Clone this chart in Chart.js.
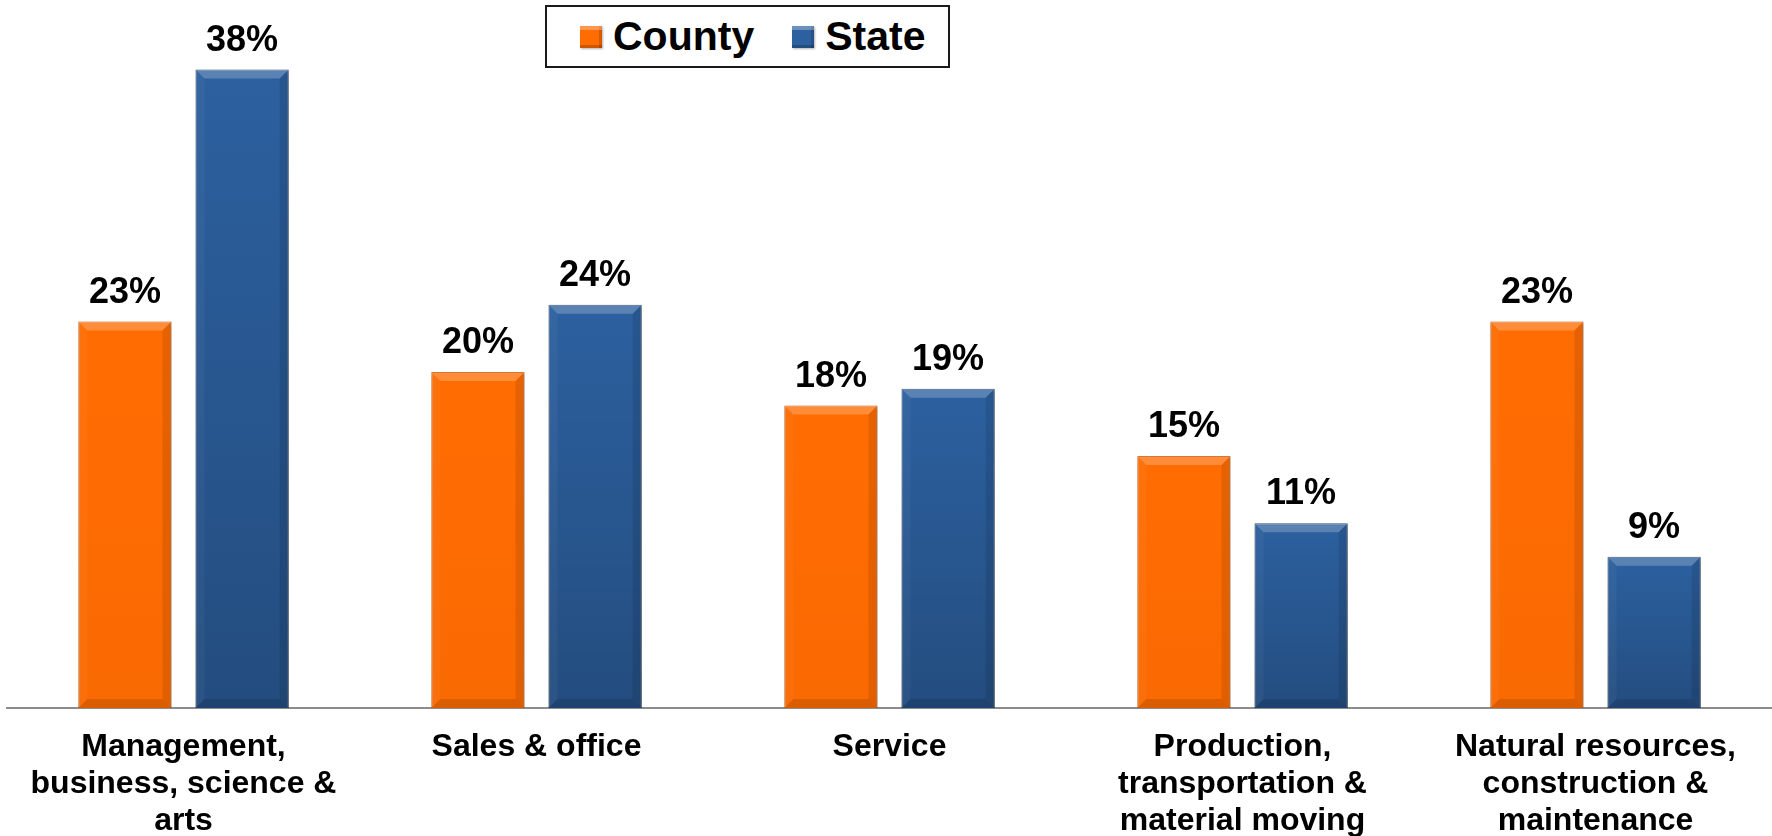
<!DOCTYPE html>
<html>
<head>
<meta charset="utf-8">
<title>Occupation: County vs State</title>
<script src="https://cdn.jsdelivr.net/npm/chart.js@4.4.1/dist/chart.umd.min.js"></script>
<style>
  html, body { margin: 0; padding: 0; background: #fff; }
  #wrap { position: relative; width: 1772px; height: 836px; }
  #occChart { position: absolute; left: 0; top: 0; }
  #legend {
    position: absolute; left: 545px; top: 5px;
    width: 405px; height: 63px; box-sizing: border-box;
    border: 2px solid #1a1a1a; background: #fff;
    display: flex; align-items: center; padding-left: 33px;
    font: bold 41px "Liberation Sans", Arial, sans-serif; color: #000;
  }
  #legend .item { display: flex; align-items: center; margin-right: 38px; }
  #legend .swatch {
    width: 22px; height: 22px; margin-right: 11px;
    box-shadow: inset 0 4px 0 rgba(255,255,255,0.3), inset -3px 0 0 rgba(0,0,0,0.15),
                inset 0 -3px 0 rgba(0,0,0,0.2), 1px 1px 2px rgba(0,0,0,0.3);
  }
</style>
</head>
<body>
<div id="wrap">
  <canvas id="occChart" width="1772" height="836"></canvas>
  <div id="legend"></div>
</div>
<script>
const categories = [
  ['Management,', 'business, science &', 'arts'],
  'Sales & office',
  'Service',
  ['Production,', 'transportation &', 'material moving'],
  ['Natural resources,', 'construction &', 'maintenance']
];
const countyValues = [23, 20, 18, 15, 23];
const stateValues = [38, 24, 19, 11, 9];

const FONT = '"Liberation Sans", Arial, sans-serif';

// soft drop shadow under each bar
const barShadow = {
  id: 'barShadow',
  beforeDatasetDraw(chart) {
    const ctx = chart.ctx;
    ctx.save();
    ctx.shadowColor = 'rgba(0,0,0,0.3)';
    ctx.shadowBlur = 4;
    ctx.shadowOffsetX = 1;
    ctx.shadowOffsetY = 1;
  },
  afterDatasetDraw(chart, args) {
    chart.ctx.restore();
    drawBevels(chart, args.meta);
  }
};

function poly(ctx, pts, color) {
  ctx.beginPath();
  ctx.moveTo(pts[0][0], pts[0][1]);
  for (let i = 1; i < pts.length; i++) ctx.lineTo(pts[i][0], pts[i][1]);
  ctx.closePath();
  ctx.fillStyle = color;
  ctx.fill();
}

// bevelled edges on top of the flat bar
function drawBevels(chart, meta) {
  const ctx = chart.ctx;
  const shade = chart.data.datasets[meta.index].shade || 0;
  const d = 9;
  ctx.save();
  meta.data.forEach(bar => {
    const l = bar.x - bar.width / 2, r = bar.x + bar.width / 2;
    const t = bar.y, b = bar.base;
    const g = ctx.createLinearGradient(0, t, 0, b);
    g.addColorStop(0, 'rgba(0,0,0,0)');
    g.addColorStop(1, 'rgba(0,0,0,' + shade + ')');
    ctx.fillStyle = g;
    ctx.fillRect(l, t, r - l, b - t);
    poly(ctx, [[l, t], [r, t], [r - d, t + d], [l + d, t + d]], 'rgba(255,255,255,0.22)');
    poly(ctx, [[r, t], [r, b], [r - d, b - d], [r - d, t + d]], 'rgba(0,0,0,0.1)');
    poly(ctx, [[l, b], [r, b], [r - d, b - d], [l + d, b - d]], 'rgba(0,0,0,0.12)');
    poly(ctx, [[l, t], [l + d, t + d], [l + d, b - d], [l, b]], 'rgba(255,255,255,0.04)');
  });
  ctx.restore();
}

// percentage above every bar
const valueLabels = {
  id: 'valueLabels',
  afterDatasetsDraw(chart) {
    const ctx = chart.ctx;
    ctx.save();
    ctx.font = 'bold 36px ' + FONT;
    ctx.fillStyle = '#000';
    ctx.textAlign = 'center';
    ctx.textBaseline = 'alphabetic';
    chart.data.datasets.forEach((ds, i) => {
      chart.getDatasetMeta(i).data.forEach((bar, j) => {
        ctx.fillText(ds.data[j] + '%', bar.x, bar.y - 19);
      });
    });
    ctx.restore();
  }
};

const ctx = document.getElementById('occChart').getContext('2d');
const occChart = new Chart(ctx, {
  type: 'bar',
  data: {
    labels: categories,
    datasets: [{
      label: 'County',
      data: countyValues,
      backgroundColor: '#FF6C02',
      borderColor: '#D95800',
      borderWidth: 1,
      shade: 0.02
    }, {
      label: 'State',
      data: stateValues,
      backgroundColor: '#2C609F',
      borderColor: '#1F416E',
      borderWidth: 1,
      shade: 0.2
    }]
  },
  options: {
    responsive: false,
    animation: false,
    devicePixelRatio: 1,
    layout: { padding: { top: 36, left: 7, right: 0, bottom: 0 } },
    datasets: {
      bar: { categoryPercentage: 0.664, barPercentage: 0.795 }
    },
    plugins: {
      legend: { display: false },
      tooltip: { enabled: false }
    },
    scales: {
      x: {
        grid: { display: false, drawTicks: false },
        border: { display: true, color: '#8c8c8c', width: 2 },
        ticks: {
          color: '#000',
          padding: 21,
          maxRotation: 0,
          autoSkip: false,
          font: { family: FONT, size: 32, weight: 'bold', lineHeight: 1.15 }
        },
        afterFit(scale) { scale.height = 128; }
      },
      y: {
        display: false,
        min: 0,
        max: 40
      }
    }
  },
  plugins: [barShadow, valueLabels]
});

// legend box built from the dataset list
const legendEl = document.getElementById('legend');
occChart.data.datasets.forEach(ds => {
  const item = document.createElement('div');
  item.className = 'item';
  const sw = document.createElement('span');
  sw.className = 'swatch';
  sw.style.background = ds.backgroundColor;
  const txt = document.createElement('span');
  txt.textContent = ds.label;
  item.appendChild(sw);
  item.appendChild(txt);
  legendEl.appendChild(item);
});
</script>
</body>
</html>
